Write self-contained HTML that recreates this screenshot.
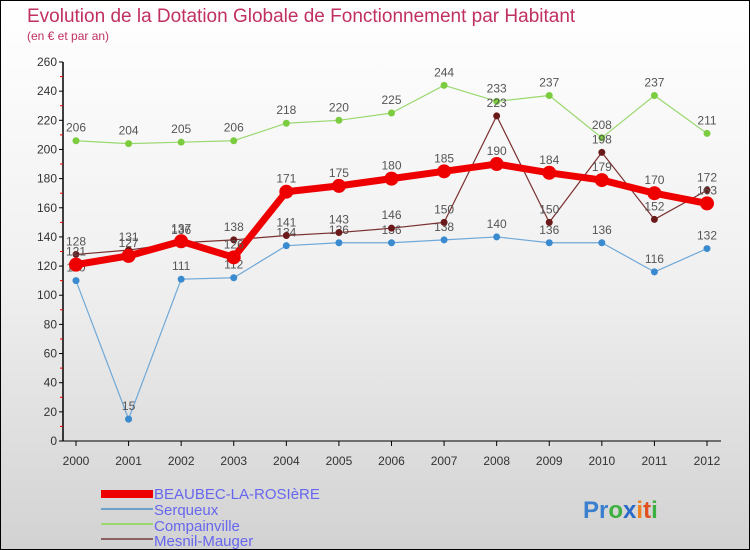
<!DOCTYPE html>
<html><head><meta charset="utf-8"><style>
body{margin:0}
#c{width:748px;height:548px;border:1px solid #000;background:linear-gradient(#fff 0%,#f0f0f0 50%,#d2d2d2 100%);position:relative;overflow:hidden;font-family:"Liberation Sans",sans-serif}
</style></head><body>
<div id="c">
<svg id="s" width="748" height="548">
<text x="26" y="21" font-size="19" fill="#c03060">Evolution de la Dotation Globale de Fonctionnement par Habitant</text>
<text x="26" y="39" font-size="12" fill="#c03060">(en € et par an)</text>
<g id="ax"></g><g id="ser"></g>
<g>
<rect x="100" y="489" width="52" height="8" fill="#e00"/>
<text x="153" y="498" font-size="15" fill="#6666ee">BEAUBEC-LA-ROSIèRE</text>
<rect x="100" y="507" width="52" height="2" fill="#6fa0c8"/>
<text x="153" y="514" font-size="15" fill="#6666ee">Serqueux</text>
<rect x="100" y="522" width="52" height="2" fill="#9ad870"/>
<text x="153" y="530" font-size="15" fill="#6666ee">Compainville</text>
<rect x="100" y="537" width="52" height="2" fill="#8a6060"/>
<text x="153" y="545" font-size="15" fill="#6666ee">Mesnil-Mauger</text>
</g>
<text x="582" y="517" font-size="24" font-weight="bold"><tspan fill="#3a7fd0">Pr</tspan><tspan fill="#3cb040">o</tspan><tspan fill="#2a6ac8">x</tspan><tspan fill="#f08020">i</tspan><tspan fill="#e05020">t</tspan><tspan fill="#3cb040">i</tspan></text>
</svg></div>
<script>
const years=[2000,2001,2002,2003,2004,2005,2006,2007,2008,2009,2010,2011,2012];
const yTicks=[0,20,40,60,80,100,120,140,160,180,200,220,240,260];
const beaubec=[121,127,137,126,171,175,180,185,190,184,179,170,163];
const serqueux=[110,15,111,112,134,136,136,138,140,136,136,116,132];
const compainville=[206,204,205,206,218,220,225,244,233,237,208,237,211];
const mesnil=[128,131,136,138,141,143,146,150,223,150,198,152,172];
const NS="http://www.w3.org/2000/svg";
const X=i=>75+i*(706-75)/(years.length-1);
const Y=v=>440-v*(379/260);
function mk(t,a,p){const e=document.createElementNS(NS,t);for(const k in a)e.setAttribute(k,a[k]);p.appendChild(e);return e;}
const ax=document.getElementById('ax');
let l=mk('line',{x1:62,y1:Y(260),x2:62,y2:440,stroke:'#000','stroke-width':1.5},ax);


l=mk('line',{x1:62,y1:440,x2:720,y2:440,stroke:'#000','stroke-width':1},ax);


yTicks.forEach((v,i)=>{
 mk('line',{x1:58,y1:Y(v),x2:62,y2:Y(v),stroke:'#000'},ax);
 if(i<yTicks.length-1)mk('line',{x1:59,y1:Y(v+10),x2:62,y2:Y(v+10),stroke:'#e00'},ax);
 const t=mk('text',{x:56,y:Y(v)+4,'font-size':12,fill:'#333','text-anchor':'end'},ax);
 t.textContent=v;
 
 
});
years.forEach((y,i)=>{
 mk('line',{x1:X(i),y1:440,x2:X(i),y2:445,stroke:'#000'},ax);
 const t=mk('text',{x:X(i),y:464,'font-size':12,fill:'#333','text-anchor':'middle'},ax);
 t.textContent=y;
 
 
});
const ser=document.getElementById('ser');
function draw(name,data,color,w,r,dot){
 const g=mk('g',{},ser);
 
 
 const p=mk('polyline',{points:data.map((v,i)=>X(i)+','+Y(v)).join(' '),fill:'none',stroke:color,'stroke-width':w,'stroke-linejoin':'round'},g);
 
 
 data.forEach((v,i)=>{
  const c=mk('circle',{cx:X(i),cy:Y(v),r:r,fill:dot},g);
  
  
  const t=mk('text',{x:X(i),y:Y(v)-9,'font-size':12,fill:'#555','text-anchor':'middle'},g);
  t.textContent=v;
  
  
 });
}
draw('serqueux',serqueux,'#6fa8d8',1.2,3.5,'#3a8ad0');
draw('compainville',compainville,'#9ad870',1.2,3.5,'#7ccc40');
draw('mesnil',mesnil,'#7a3030',1.2,3.5,'#6a1a1a');
draw('beaubec',beaubec,'#ee0000',7,7,'#ee0000');
</script>
</body></html>
